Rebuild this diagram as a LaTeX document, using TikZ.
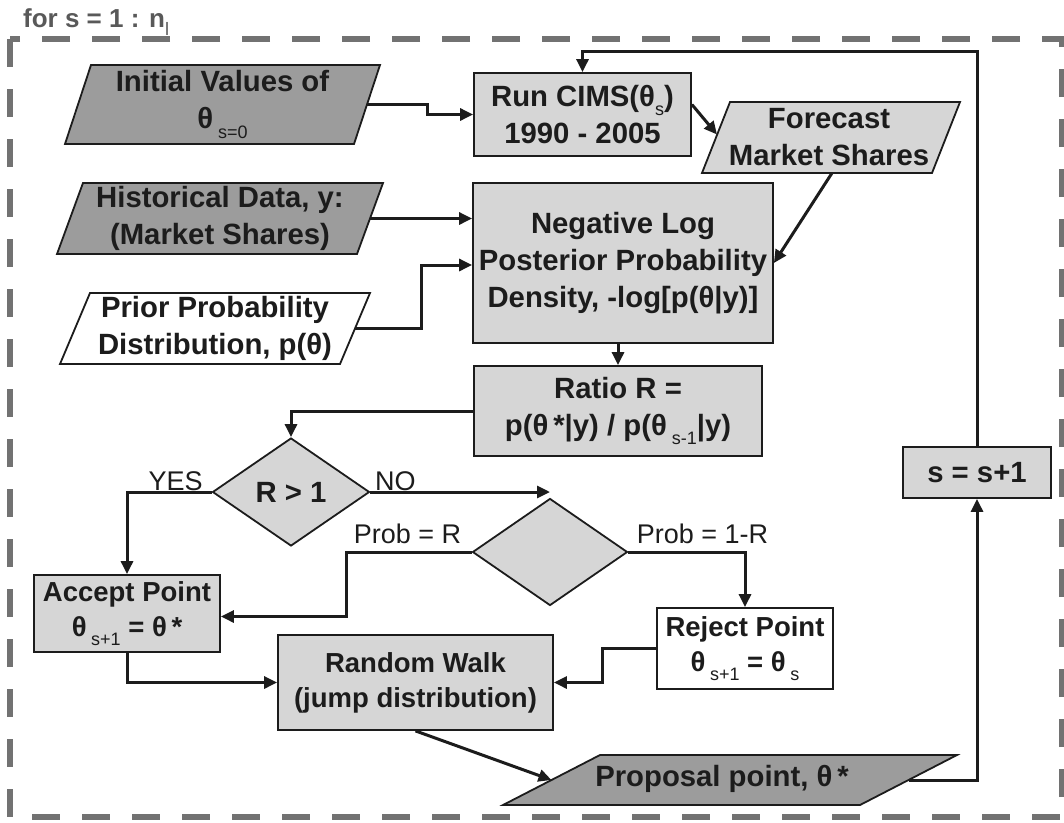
\documentclass[tikz,border=0pt]{standalone}
\usepackage{fontspec}
\setmainfont{Liberation Sans}
\usetikzlibrary{shapes.geometric,arrows.meta,calc}
\definecolor{darkfill}{HTML}{9C9C9C}
\definecolor{lightfill}{HTML}{D6D6D6}
\definecolor{inkc}{HTML}{1C1C1C}
\definecolor{framec}{HTML}{727272}
\newcommand\mainf{\fontsize{29.3}{37}\selectfont\bfseries}
\newcommand\smallf{\fontsize{27.5}{35}\selectfont\bfseries}
\newcommand\labf{\fontsize{27}{32}\selectfont}
\newcommand\mysub[1]{\raisebox{-0.32em}{\fontsize{18}{18}\selectfont\mdseries #1}}
% parallelogram: name, x, y, width, height, slant, fill
\newcommand\parabox[7]{%
  \node[minimum width=#4pt, minimum height=#5pt, inner sep=0pt, outer sep=0pt] (#1) at (#2,#3) {};
  \draw[shp, fill=#7] (#1.south west) -- ($(#1.north west)+(#6,0)$) -- (#1.north east) -- ($(#1.south east)+(-#6,0)$) -- cycle;
  \coordinate (#1-w) at ($(#1.west)+(#6/2,0)$);
  \coordinate (#1-e) at ($(#1.east)+(-#6/2,0)$);
}
\begin{document}
\begin{tikzpicture}[x=1pt,y=-1pt,
  shp/.style={draw=inkc, line width=1.8pt, inner sep=0pt, text=inkc},
  box/.style={shp, rectangle, fill=lightfill, font=\mainf, align=center},
  dia/.style={shp, diamond, fill=lightfill, font=\mainf},
  txt/.style={font=\mainf, align=center, text=inkc, inner sep=0pt},
  lab/.style={font=\labf, text=inkc, anchor=south},
  arr/.style={draw=inkc, line width=3pt, -{Triangle[length=13pt,width=12pt]}},
]
\useasboundingbox (0,0) rectangle (1064,822);

% frame and title
\draw[framec, line width=5.5pt, dash pattern=on 28pt off 22pt] (10,39) rectangle (1062,817);
\node[anchor=base west, font=\fontsize{26}{30}\selectfont\bfseries, text=black!65, inner sep=0pt] (title) at (23,27) {for s = 1 : n\mysub{l}};

% input parallelograms
\parabox{init}{222.5}{104.5}{315}{79}{26}{darkfill}
\node[txt] (init-t) at (init.center) {Initial Values of\\θ\,\mysub{s=0}};

\parabox{hist}{220}{218.5}{326}{71}{26}{darkfill}
\node[txt] (hist-t) at (hist.center) {Historical Data, y:\\(Market Shares)};

\parabox{prior}{215}{328.5}{310}{71}{30}{white}
\node[txt] (prior-t) at (prior.center) {Prior Probability\\Distribution, p(θ)};

% main column
\node[box, minimum width=217pt, minimum height=83pt] (run) at (582.5,114.5) {Run CIMS(θ\mysub{s})\\1990 - 2005};

\parabox{fc}{831}{137.5}{258}{71}{28}{lightfill}
\node[txt] (fc-t) at ($(fc.center)+(-2,0)$) {Forecast\\Market Shares};

\node[box, minimum width=300pt, minimum height=160pt] (neg) at (623,263) {Negative Log\\Posterior Probability\\Density, -log[p(θ|y)]};

\node[box, minimum width=288pt, minimum height=90pt] (ratio) at (618,411) {Ratio R =\\p(θ\,*|y) / p(θ\,\mysub{s-1}|y)};

% decisions
\node[dia, aspect=1.45, minimum width=157pt, minimum height=108pt] (d1) at (291,492) {R > 1};
\node[dia, aspect=1.45, minimum width=155pt, minimum height=107pt] (d2) at (550,552) {};

\node[box, font=\smallf, minimum width=186pt, minimum height=77pt] (accept) at (127,613.5) {Accept Point\\θ\,\mysub{s+1} = θ\,*};
\node[box, font=\smallf, fill=white, minimum width=176pt, minimum height=81pt] (reject) at (745,648.5) {Reject Point\\θ\,\mysub{s+1} = θ\,\mysub{s}};

\node[box, font=\smallf, minimum width=275pt, minimum height=95pt] (random) at (415.5,682.5) {Random Walk\\(jump distribution)};

\parabox{prop}{730}{780}{454}{50}{97}{darkfill}
\node[txt] (prop-t) at ($(prop.center)+(-8,-1)$) {Proposal point, θ\,*};

\node[box, minimum width=148pt, minimum height=51pt] (sinc) at (977,472.5) {s = s+1};

% connectors
\draw[arr] (init-e) -- ++(60,0) |- (run.west);
\draw[arr] ($(run.east)+(0,-10)$) -- ($(fc-w)+(1,-3)$);
\draw[arr] ($(fc.south)+(1,0)$) -- (neg.east);
\draw[arr] (hist-e) -- (hist-e -| neg.west);
\draw[arr] (prior-e) -- ++(66,0) |- ($(neg.west)+(0,2)$);
\draw[arr] (neg.south -| ratio.north) -- (ratio.north);
\draw[arr] (ratio.west) -| (d1.north);
\draw[arr] (d1.west) -| (accept.north);
\draw[arr] (d1.east) -- (d1.east -| d2.north);
\draw[arr] (d2.west) -- ++(-125,0) |- ($(accept.east)+(0,3)$);
\draw[arr] (d2.east) -| (reject.north);
\draw[arr] (reject.west) -- ++(-54,0) |- (random.east);
\draw[arr] (accept.south) |- (random.west);
\draw[arr] (random.south) -- (prop-w);
\draw[arr] (prop-e) -| (sinc.south);
\draw[arr] (sinc.north) |- ($(run.north)+(0,-21)$) -- (run.north);

% branch labels
\node[lab, inner sep=1pt] (yes) at ($(d1.west)+(-36,0)$) {YES};
\node[lab, inner sep=1pt] (no) at ($(d1.east)+(25,0)$) {NO};
\node[lab, inner sep=8pt] (pr) at ($(d2.west)+(-64,0)$) {Prob = R};
\node[lab, inner sep=8pt] (p1r) at ($(d2.east)+(74,0)$) {Prob = 1-R};
\end{tikzpicture}
\end{document}
